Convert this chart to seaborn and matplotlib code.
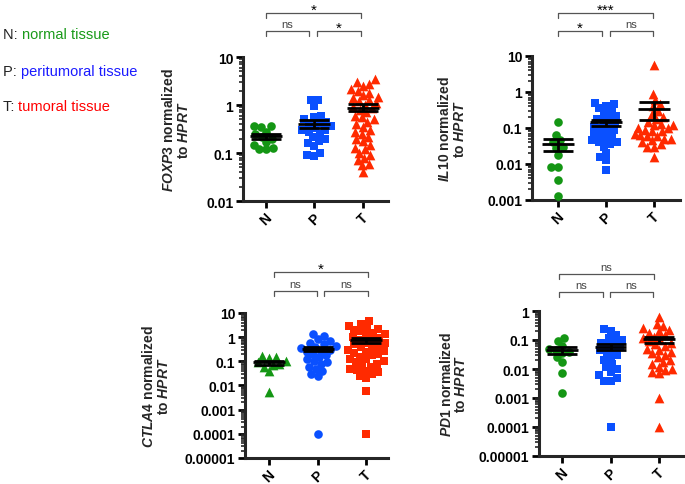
import numpy as np
import pandas as pd
import matplotlib
matplotlib.use('Agg')
import matplotlib.pyplot as plt
import matplotlib.transforms as mtransforms
from matplotlib.ticker import FixedLocator, LogLocator, NullFormatter
import seaborn as sns

# groups and colours
groups = ['N', 'P', 'T']
point_colors = ['#149614', '#0a50ff', '#ff2a00']
# marker per group, per panel
panel_markers = [['o', 's', '^'], ['o', 's', '^'], ['^', 'o', 's'], ['o', 's', '^']]

# values (relative expression)
foxp3_n = [0.37, 0.36, 0.35, 0.28, 0.25, 0.22, 0.2, 0.17, 0.15, 0.13, 0.12, 0.12]
foxp3_p = [1.3, 1.25, 0.95, 0.6, 0.55, 0.5, 0.45, 0.42, 0.4, 0.36, 0.33, 0.3, 0.3, 0.28,
           0.25, 0.22, 0.2, 0.18, 0.16, 0.14, 0.1, 0.09, 0.085]
foxp3_t = [3.4, 3.0, 2.8, 2.5, 2.2, 2.0, 1.8, 1.6, 1.5, 1.4, 1.3, 1.2, 1.1, 1.0, 0.9, 0.85,
           0.8, 0.7, 0.6, 0.55, 0.5, 0.45, 0.4, 0.35, 0.3, 0.28, 0.25, 0.22, 0.2, 0.18,
           0.15, 0.13, 0.12, 0.1, 0.09, 0.08, 0.07, 0.06, 0.055, 0.04]

il10_n = [0.145, 0.065, 0.045, 0.04, 0.03, 0.027, 0.018, 0.0085, 0.008, 0.0037, 0.0013]
il10_p = [0.5, 0.45, 0.4, 0.35, 0.3, 0.25, 0.22, 0.2, 0.18, 0.16, 0.14, 0.12, 0.11, 0.1,
          0.09, 0.08, 0.07, 0.065, 0.06, 0.05, 0.045, 0.04, 0.04, 0.035, 0.03, 0.02,
          0.016, 0.013, 0.007]
il10_t = [5.5, 0.9, 0.6, 0.45, 0.4, 0.3, 0.25, 0.2, 0.18, 0.15, 0.13, 0.12, 0.12, 0.1,
          0.1, 0.09, 0.08, 0.08, 0.07, 0.065, 0.06, 0.06, 0.05, 0.05, 0.045, 0.04, 0.035,
          0.03, 0.03, 0.016]

ctla4_n = [0.16, 0.15, 0.14, 0.1, 0.09, 0.08, 0.07, 0.06, 0.04, 0.0055]
ctla4_p = [1.3, 1.1, 0.85, 0.7, 0.6, 0.5, 0.45, 0.4, 0.35, 0.3, 0.28, 0.25, 0.2, 0.18,
           0.15, 0.12, 0.1, 0.09, 0.08, 0.06, 0.05, 0.04, 0.03, 0.025, 0.0001]
ctla4_t = [4.5, 3.5, 3.0, 2.5, 2.2, 2.0, 1.8, 1.5, 1.3, 1.2, 1.0, 0.9, 0.8, 0.7, 0.6,
           0.55, 0.5, 0.45, 0.4, 0.35, 0.3, 0.28, 0.25, 0.22, 0.2, 0.18, 0.15, 0.13,
           0.12, 0.1, 0.09, 0.08, 0.07, 0.06, 0.05, 0.045, 0.04, 0.035, 0.03, 0.025,
           0.02, 0.006, 0.0001]

pd1_n = [0.12, 0.09, 0.06, 0.05, 0.045, 0.04, 0.035, 0.025, 0.018, 0.007, 0.0015]
pd1_p = [0.24, 0.2, 0.15, 0.12, 0.1, 0.09, 0.08, 0.07, 0.06, 0.05, 0.045, 0.04, 0.03,
         0.025, 0.02, 0.015, 0.012, 0.01, 0.008, 0.006, 0.005, 0.004, 0.004, 0.0001]
pd1_t = [0.62, 0.35, 0.3, 0.25, 0.22, 0.2, 0.18, 0.15, 0.13, 0.12, 0.1, 0.09, 0.08, 0.07,
         0.06, 0.05, 0.045, 0.04, 0.035, 0.03, 0.025, 0.02, 0.018, 0.015, 0.012, 0.01,
         0.009, 0.008, 0.007, 0.001, 0.0001]

genes = ['FOXP3', 'IL10', 'CTLA4', 'PD1']
ytick_labels = [
    ['0.01', '0.1', '1', '10'],
    ['0.001', '0.01', '0.1', '1', '10'],
    ['0.00001', '0.0001', '0.001', '0.01', '0.1', '1', '10'],
    ['0.00001', '0.0001', '0.001', '0.01', '0.1', '1'],
]
# significance labels: N vs P, P vs T, N vs T
sig_labels = [['ns', '*', '*'], ['*', 'ns', '***'], ['ns', 'ns', '*'], ['ns', 'ns', 'ns']]

legend_lines = [('N: ', 'normal tissue', '#1a9a1a'),
                ('P: ', 'peritumoral tissue', '#1a1aff'),
                ('T: ', 'tumoral tissue', '#ff0000')]

sns.set_style('ticks')
plt.rcParams['font.family'] = ['Liberation Sans', 'DejaVu Sans']
plt.rcParams['mathtext.fontset'] = 'custom'
plt.rcParams['mathtext.it'] = 'Liberation Sans:italic:bold'
plt.rcParams['mathtext.rm'] = 'Liberation Sans:bold'
plt.rcParams['mathtext.bf'] = 'Liberation Sans:bold'

W, H = 685, 485
fig = plt.figure(figsize=(W / 100, H / 100), dpi=100)

# layout in pixels: left, top, right, bottom of each axes
boxes = [(243, 58, 388, 202), (532, 57, 680, 201), (245, 314, 388, 459), (539, 312, 683, 457)]
xlims = [(-0.47, 2.52), (-0.54, 2.54), (-0.5, 2.45), (-0.48, 2.5)]
ylabel_x = [-0.36, -0.44, -0.52, -0.49]
# bracket rows in pixels (top row, lower row) and x spans
bracket_y = [(14, 32), (14, 32), (273, 292), (275, 293)]
bracket_x = [
    [(0, 0.9), (1.05, 1.96), (0, 1.96)],
    [(0, 0.92), (1.08, 1.98), (0, 1.98)],
    [(0.1, 0.99), (1.13, 2.04), (0.1, 2.04)],
    [(-0.06, 0.85), (0.98, 1.88), (-0.06, 1.9)],
]

data = [
    [foxp3_n, foxp3_p, foxp3_t],
    [il10_n, il10_p, il10_t],
    [ctla4_n, ctla4_p, ctla4_t],
    [pd1_n, pd1_p, pd1_t],
]

swarms = []
for k in range(4):
    l, t, r, b = boxes[k]
    ax = fig.add_axes([l / W, 1 - b / H, (r - l) / W, (b - t) / H])
    ax.set_yscale('log')

    for g, vals, m, c in zip(groups, data[k], panel_markers[k], point_colors):
        df = pd.DataFrame({'group': [g] * len(vals), 'value': vals})
        n_before = len(ax.collections)
        sns.swarmplot(data=df, x='group', y='value', order=groups, marker=m,
                      color=c, size=4.8, linewidth=0, ax=ax, zorder=3)
        # seaborn adds one (possibly empty) collection per category
        for pc in ax.collections[n_before:]:
            if len(pc.get_offsets()) > 0:
                swarms.append((pc, m))

    # mean +/- SEM
    for i, vals in enumerate(data[k]):
        v = np.array(vals)
        mean = v.mean()
        sem = v.std(ddof=1) / np.sqrt(len(v))
        ax.hlines(mean, i - 0.33, i + 0.33, color='black', lw=2, zorder=5)
        ax.errorbar(i, mean, yerr=sem, fmt='none', ecolor='black', elinewidth=2,
                    capsize=11, capthick=2, zorder=5)

    ticks = [float(s) for s in ytick_labels[k]]
    ax.set_ylim(ticks[0], ticks[-1])
    ax.yaxis.set_major_locator(FixedLocator(ticks))
    ax.set_yticklabels(ytick_labels[k])
    ax.yaxis.set_minor_locator(LogLocator(base=10, subs=np.arange(2, 10), numticks=20))
    ax.yaxis.set_minor_formatter(NullFormatter())
    ax.set_xlim(*xlims[k])
    ax.set_xticks(range(3))
    ax.set_xticklabels(groups, rotation=45, ha='center', fontweight='bold', fontsize=10)

    for lab in ax.get_yticklabels():
        lab.set_fontweight('bold')
        lab.set_fontsize(10)

    sns.despine(ax=ax)
    ax.spines['left'].set_linewidth(2.2)
    ax.spines['bottom'].set_linewidth(2.2)
    ax.tick_params(axis='both', which='major', length=5, width=2, pad=2, colors='black')
    ax.tick_params(axis='y', which='minor', length=3, width=1.2)
    ax.set_xlabel('')
    ax.set_ylabel(r'$\it{' + genes[k] + r'}$ normalized' + '\n' + r'to $\it{HPRT}$',
                  fontsize=10, fontweight='bold', linespacing=1.05)
    ax.yaxis.set_label_coords(ylabel_x[k], 0.5)

    # significance brackets
    trans = mtransforms.blended_transform_factory(ax.transData, fig.transFigure)
    top_px, low_px = bracket_y[k]
    rows = [low_px, low_px, top_px]
    for (x0, x1), ypx, lab in zip(bracket_x[k], rows, sig_labels[k]):
        y = 1 - ypx / H
        dy = 5 / H
        ax.plot([x0, x0, x1, x1], [y - dy, y, y, y - dy], color='#555555', lw=0.9,
                transform=trans, clip_on=False)
        if lab == 'ns':
            ax.text((x0 + x1) / 2, 1 - (ypx - 4) / H, lab, ha='center', va='baseline',
                    fontsize=8, color='#444444', transform=trans)
        else:
            ax.text((x0 + x1) / 2, 1 - (ypx + 1) / H, lab, ha='center', va='baseline',
                    fontsize=11, color='black', transform=trans)

# legend text in the top left corner
for (prefix, desc, col), ypx in zip(legend_lines, [35, 72, 107]):
    t1 = fig.text(3 / W, 1 - ypx / H, prefix, fontsize=10.5, color='#222222', va='center')
    fig.canvas.draw()
    bb = t1.get_window_extent()
    fig.text(bb.x1 / W, 1 - ypx / H, desc, fontsize=10.5, color=col, va='center')

# swarm positions are now computed; freeze them and enlarge the markers so they
# overlap like the original column scatter
fig.canvas.draw()
for pc, m in swarms:
    if 'draw' in pc.__dict__:
        del pc.draw
    s = 7.0 if m == '^' else 6.2
    pc.set_sizes([s ** 2])

fig.savefig('out.png', dpi=100)
